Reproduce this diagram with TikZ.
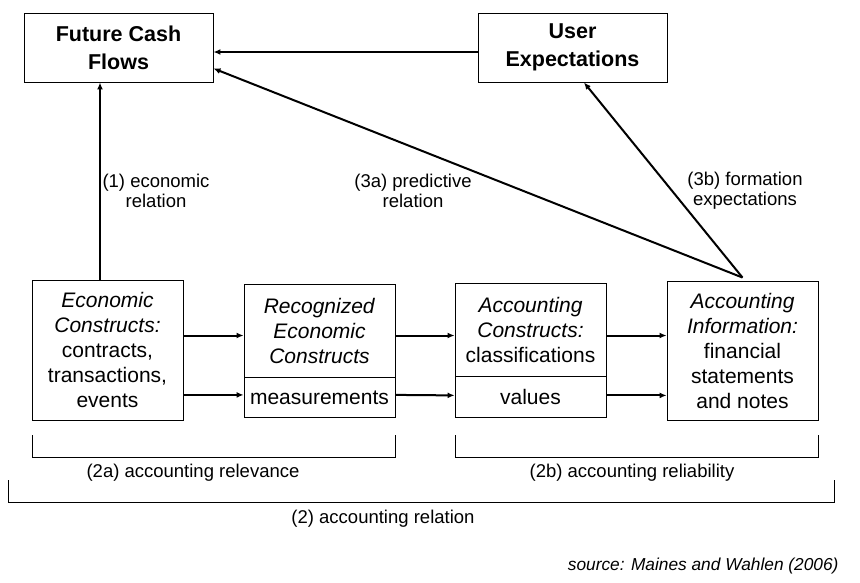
\documentclass[tikz,border=0pt]{standalone}
\usepackage{fontspec}
\setmainfont{Liberation Sans}
\usetikzlibrary{arrows.meta, positioning, calc}

\begin{document}
\begin{tikzpicture}[x=1pt, y=-1pt,
  headbox/.style={draw, line width=0.9pt, align=center, minimum width=189pt, minimum height=69pt, inner sep=0pt, font=\bfseries\fontsize{21.5}{28}\selectfont},
  box/.style={draw, line width=0.9pt, align=center, minimum width=151pt, inner sep=0pt, font=\fontsize{21}{25}\selectfont},
  arr/.style={line width=2pt, -{Latex[length=7pt,width=6pt]}},
  lbl/.style={align=center, font=\fontsize{18.5}{20}\selectfont},
  brace/.style={line width=0.9pt}]
  \useasboundingbox (0,0) rectangle (860,582);
  \node[headbox] (fcf) at (118.5,47.5) {Future Cash\\Flows};
  \node[headbox] (ue) at (572.5,47.5) {User\\Expectations};
  \node[box, minimum height=140pt] (econ) at (107.5,350) {\textit{Economic}\\\textit{Constructs:}\\contracts,\\transactions,\\events};
  \node[box, minimum height=93pt] (rec) at (319.5,330.5) {\textit{Recognized}\\\textit{Economic}\\\textit{Constructs}};
  \node[box, minimum height=40pt, below=0pt of rec] (recm) {measurements};
  \node[box, minimum height=93pt] (acc) at (530.5,329.5) {\textit{Accounting}\\\textit{Constructs:}\\classifications};
  \node[box, minimum height=41pt, below=0pt of acc] (accv) {values};
  \node[box, minimum height=139pt] (info) at (742.5,350.5) {\textit{Accounting}\\\textit{Information:}\\financial\\statements\\and notes};
  \coordinate (econtop) at ([xshift=-7.5pt]econ.north);
  \coordinate (apex) at ([yshift=3pt]info.north);
  \coordinate (rtop) at ([yshift=-5pt]rec.west);
  \coordinate (rbot) at ([yshift=3pt]recm.west);
  \coordinate (atop) at ([yshift=-6pt]acc.west);
  \coordinate (abot) at ([yshift=2pt]accv.west);
  \draw[arr] (econtop) -- (econtop |- fcf.south);
  \draw[arr] ([yshift=-4.5pt]ue.west) -- ([yshift=-4.5pt]fcf.east);
  \draw[arr] (apex) -- ([yshift=14pt]fcf.south east);
  \draw[arr] (apex) -- ([xshift=11.5pt]ue.south);
  \draw[arr] (rtop -| econ.east) -- (rtop);
  \draw[arr] (rbot -| econ.east) -- (rbot);
  \draw[arr] (rtop -| rec.east) -- (atop);
  \draw[arr] (rbot -| recm.east) -- (abot);
  \draw[arr] (atop -| acc.east) -- (atop -| info.west);
  \draw[arr] (abot -| accv.east) -- (abot -| info.west);
  \node[lbl] (l1) at (156,191) {(1) economic\\relation};
  \node[lbl] (l3a) at (413,191) {(3a) predictive\\relation};
  \node[lbl] (l3b) at (745,191) {(3b) formation\\expectations};
  \draw[brace] (32,435) |- (395,457) -- (395,435);
  \draw[brace] (455,435) |- (818,457) -- (818,435);
  \draw[brace] (8,480) |- (834,502) -- (834,480);
  \node[lbl] (l2a) at (193,473) {(2a) accounting relevance};
  \node[lbl] (l2b) at (632,473) {(2b) accounting reliability};
  \node[lbl] (l2) at (383,519) {(2) accounting relation};
  \node[anchor=east, font=\itshape\fontsize{17.3}{20}\selectfont] (src) at (842,566) {source: Maines and Wahlen (2006)};
\end{tikzpicture}
\end{document}
